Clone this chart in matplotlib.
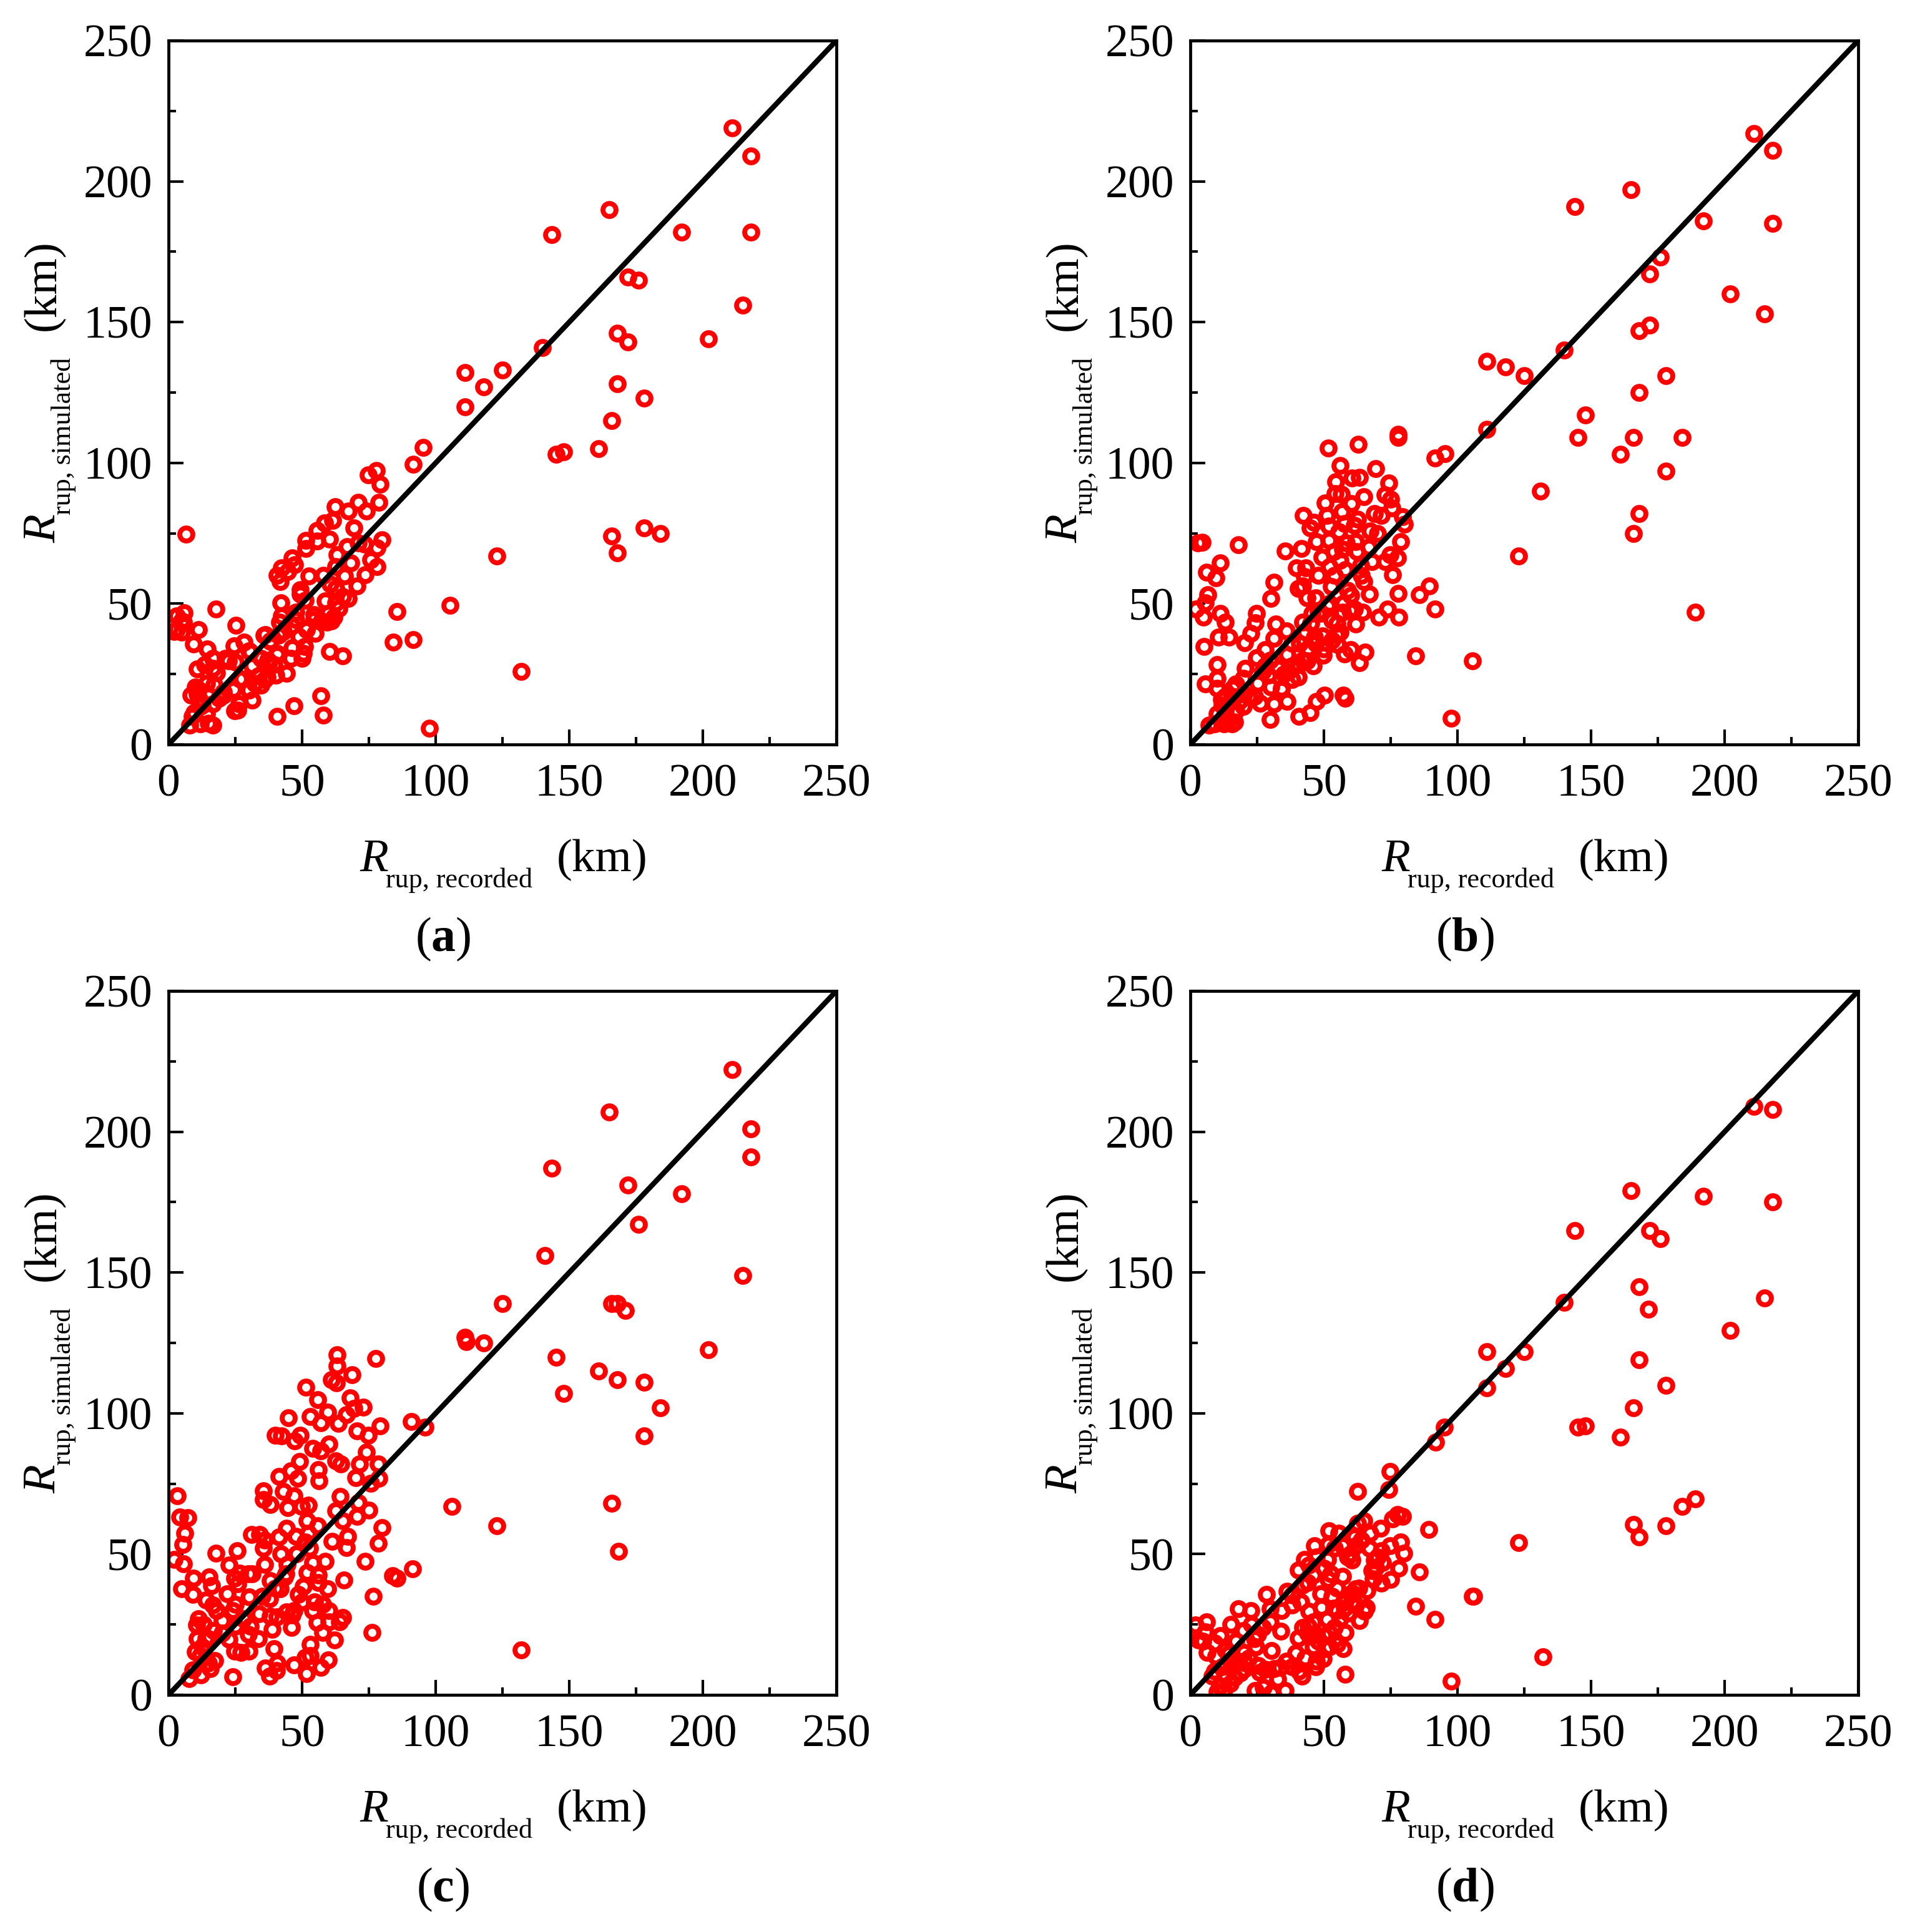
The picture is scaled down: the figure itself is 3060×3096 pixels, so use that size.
"""
Four scatter panels of simulated against recorded rupture distance.
"""
import matplotlib
matplotlib.use("Agg")
import matplotlib.pyplot as plt

plt.rcParams["font.family"] = ["Liberation Serif", "DejaVu Serif"]
plt.rcParams["mathtext.fontset"] = "custom"
plt.rcParams["mathtext.rm"] = "Liberation Serif"
plt.rcParams["mathtext.it"] = "Liberation Serif:italic"
plt.rcParams["mathtext.bf"] = "Liberation Serif:bold"

a_x = [211, 218, 218, 192, 165, 143.5, 172, 176, 168, 172, 202, 215, 140, 111, 125, 118, 111, 168, 166, 178,
       161, 148, 145, 166, 168, 178, 184, 123, 132,
       6.5, 95.4, 91.7, 74.8, 77.7, 79.3, 78.7, 71.1, 62.4, 67.2, 74.1, 61.4, 69.5, 58.3, 55.5, 60.2, 55.5, 51.5, 51.5,
       79.9, 66.8, 73.4, 71.1, 63.1, 78.1, 75.8, 68.2, 62.5, 78.1, 47.2, 46.2, 44.6, 42.3, 40.7, 41.9, 57.9, 52.6, 73.7,
       66, 60.4, 70.6, 49.3, 51.2, 65.3, 67.2, 42.1, 58.6, 62.5, 59.8, 61.8, 42.3, 47.7, 41.5, 57.2, 59.4, 54.4, 46.2,
       51.6, 54.8, 41.3, 48.8, 36.1, 38, 28.3, 24.6, 30.1, 51, 46.3, 50.5, 40.7, 45.8, 25, 22.4, 39.6, 37.6, 31.2,
       33.7, 36, 44.2, 40.3, 10.7, 16.6, 18.1, 17, 10, 8.4, 10.7, 11.5, 12.7, 24.2, 30.2, 31.4, 24.8, 26, 19.7, 27.5,
       40.7, 47, 57.1, 58, 97.6, 60.2, 65.3, 85.5, 84.2, 91.5, 105.4, 17.8, 25.3, 11.3, 9.3, 14.4, 5.9, 3, 5.7, 3,
       4.9, 8, 15, 16.6, 11.9, 8.8, 9.6, 14.3, 16.6, 20.5,
       21.3, 35.7, 30.6, 34.5, 38, 41.1, 37.2, 40.7, 32.2, 34.5, 36.8, 26.7, 20.5, 18.9, 11.9, 11.1, 14.3, 13.5, 16.6,
       4.9, 2.2, 26.3, 49.3, 62.5, 63.7, 61, 54.4, 51.6, 43.1, 47.7, 50.1]
a_y = [219, 209, 182, 182, 190, 181, 166, 165, 146, 143, 144, 156, 141, 132, 133, 127, 120, 128, 115, 123,
       105, 104, 103, 74, 68, 77, 75, 67, 26,
       74.6, 105.5, 99.5, 95.8, 97.4, 92.4, 85.9, 85.9, 84.5, 82.8, 83, 79.5, 77, 78.6, 76, 72.9, 72.3, 72.4, 69.5,
       72.7, 70.2, 71.1, 71.6, 67.3, 69.8, 65.7, 64.5, 63.2, 63.2, 63.8, 66.3, 61.4, 62.8, 60.1, 57.9, 60.1, 59.9, 60.3,
       59.9, 57, 56.3, 53.5, 51.3, 52.5, 51.8, 50.4, 50.9, 50.4, 46.5, 45.2, 45.6, 44.3, 43.4, 43.8, 43.4, 44.3, 42.1,
       40.8, 39.4, 39, 38.4, 39, 36.8, 36.4, 35, 33.3, 34.8, 34.3, 32.4, 32.4, 30.5, 29.3, 29.8, 28.4, 29.3, 28,
       24.3, 23, 25.2, 24.5, 26.9, 27.1, 25.4, 21.2, 20.5, 17.6, 17.9, 16.1, 13.9, 19.4, 19.2, 15.8, 11.9, 12.1, 17, 23.2,
       9.9, 13.7, 17.2, 10.4, 5.8, 33, 31.5, 47.1, 36.4, 37.2, 49.4, 48, 42.3, 40.8, 35.7, 33.9, 46.7, 45.6, 43.4, 40.8,
       39.9, 6.9, 7.6, 6.9, 7.3, 9.9, 11.3, 10.8, 14.3, 17.5,
       30.6, 38.7, 32.8, 30.6, 36.5, 38.7, 29.9, 32, 21.7, 21, 23.9, 23.2, 18.7, 16.5, 13.6, 19.5, 21.7, 28.4, 30.6,
       43.9, 40.2, 14.3, 55, 55.4, 48.4, 43.9, 46.1, 41, 40.2, 46.9, 30.6]

b_x = [211, 218, 218, 192, 165, 144, 176, 172, 172, 168, 202, 215, 140, 111, 118, 125, 111, 178, 168, 148,
       166, 184, 145, 161, 178, 131, 168, 166, 123, 189,
       51.6, 62.9, 77.7, 77.7, 91.7, 95.4, 56, 69.5, 63.3, 60.6, 54.4, 74.2, 56.5, 54.1, 65, 72.8, 74.9, 50.5, 60.2, 75.5,
       42.3, 56.7, 51.2, 68.9, 71.6, 79.4, 62.5, 57.6, 80.2, 61.5, 46.3, 44.9, 51.8, 55.7, 67.2, 51.8, 47.3, 78.7, 58.4, 57,
       41.5, 35.4, 66.8, 53.7, 62.3, 49.2, 74.8, 77.5, 56, 72.8, 63.9, 52.2, 39.7, 43.2, 75.7, 42.8, 65, 52.7, 40.5, 42.1,
       43.6, 58.8, 67, 31.3, 30.1, 77.7, 85.7, 89.4, 91.5, 51.4, 57.2, 61.5, 59.8, 64.6, 73.8, 70.5, 78.1, 61.8, 48.7, 45.6,
       42.1, 5.7, 6.6, 2, 4.9, 11.3, 13.2, 6, 11.3, 9.5, 4.4, 2.7, 17.9, 24.7, 24.3, 22.6, 20.4, 32.1, 31.4, 36,
       10.5, 14.4, 5.1, 24.8, 36.2, 38.2, 46.5, 49.5, 54.7, 44.2, 55.1, 49.8, 57.6, 60, 65.4, 63.3, 40.7, 43.6, 36.4, 40.5,
       28, 20.6, 29.2, 10.1, 10.1, 5.5, 17.1, 19.9, 25.2, 30.2, 34.1, 11.7, 18.5, 19.9, 26.2, 31.2, 36.2, 30, 40.7, 44.8,
       47.3, 50.2, 57.2, 58, 97.7, 84.3, 105.5, 9, 7, 16.7, 15.6, 12.5, 14, 10.1, 13.2,
       10, 13, 15, 17, 20, 22, 27, 30, 33, 35, 38, 41, 43, 45, 48, 52, 53, 47, 50, 55, 57, 60, 64, 58, 62, 70, 68, 54, 48, 47,
       12, 16, 24, 28, 34, 38, 42, 46, 53, 56]
b_y = [217, 211, 185, 186, 197, 191, 173, 167, 149, 147, 160, 153, 140, 136, 134, 131, 112, 131, 125, 117,
       109, 109, 109, 103, 97, 90, 82, 75, 67, 47,
       105.2, 106.6, 110.1, 109, 101.8, 103.3, 99, 98, 94.9, 94.6, 93.4, 92.9, 88.9, 89.2, 87.9, 88.7, 87, 85.7, 85.5, 83.9,
       81.3, 82.6, 81.3, 82, 81.3, 81, 79.9, 78.4, 78.2, 77.7, 79, 76.8, 77.6, 75.5, 75.8, 72.4, 72, 72, 71.6, 69.4,
       69.6, 68.8, 70.1, 68.5, 68.5, 66.5, 67.4, 66.3, 65.4, 65, 63.6, 63.2, 62.8, 62.8, 60.3, 59.7, 57.9, 56, 55.3, 56.2,
       52, 54.8, 53.5, 57.7, 51.9, 53.7, 53.3, 56.2, 48.1, 49.1, 50, 48.2, 47.4, 46.9, 48.2, 45.3, 45.2, 42.8, 46.5, 46.5,
       43.4, 50.4, 53.3, 48.2, 45.2, 46.5, 43.4, 61.2, 64.5, 59.2, 71.7, 71.6, 70.9, 46.5, 43.2, 39.4, 36.1, 42.8, 37.7, 40.3,
       38.1, 38.1, 34.8, 30.8, 32, 35.9, 38.1, 38.6, 39, 34.2, 35.5, 31.7, 32.2, 33.7, 32.8, 29, 28.3, 29.8, 25.6, 24,
       33.7, 27.1, 24.7, 28.4, 23.6, 21.6, 21.4, 23.6, 21.8, 20.5, 19.6, 15.9, 15.5, 13.5, 14.6, 14.3, 15.4, 8.8, 9.9, 11.3,
       15.2, 17.4, 17.4, 16.5, 9.2, 31.4, 29.8, 7.3, 6.9, 8, 7.3, 7.3, 8.2, 10.8, 11.7,
       20, 17, 15, 12, 18, 17, 26, 30, 27, 25, 28, 36, 40, 43, 47, 50, 44, 36, 34, 43, 47, 53, 60, 62, 72, 75, 65, 60, 60, 52,
       14, 20, 17, 28, 20, 23, 30, 28, 37, 40]

c_x = [211, 218, 218, 192, 165, 143.5, 172, 176, 141, 125, 111, 111.5, 118, 166, 168, 171, 215, 202, 145, 161,
       148, 168, 178, 184, 178, 96, 91, 166, 168.5, 123, 106, 132,
       63.2, 63.1, 68.7, 60.9, 62.9, 77.6, 51.4, 55.8, 68.1, 73, 69.5, 59.6, 53, 57, 44.8, 63.6, 66.7, 79.2, 70.6, 74.8,
       42.2, 39.9, 47.1, 49.2, 53.9, 60, 57, 74, 62.5, 64.4, 78.4, 71.6, 49, 45.9, 41.4, 48.4, 56.1, 56.4, 70.2, 78.8,
       75.7, 35.6, 38, 35.6, 43.1, 46.9, 44.7, 49.8, 52.3, 64.3, 62.5, 71, 75.1, 70.6, 51.9, 55.8, 65.2, 80, 78.6, 31.1,
       34, 44.2, 52.3, 47.7, 41.4, 51.2, 52.7, 61.3, 67.1, 66.7, 35.4, 42, 25.7, 17.8, 22.6, 58.6, 73.7, 36, 44.5, 31.3,
       26.6, 24.7, 26, 38.2, 43.4, 51.8, 56.1, 65.7, 85.4, 83.9, 91.4, 41.8, 50.4, 59.6, 48.7, 30.1, 37.9, 16.1, 15.3, 9.3,
       4.8, 9.1, 14, 16.5, 25, 57.8, 54.7, 76.6, 44.2, 46.3, 33.8, 40.7, 65.2, 60.1, 55.5, 38.7, 30.5, 11.2, 20, 10.5,
       24.9, 16.9, 57.6, 76.2, 29.8, 33.6, 10.7, 22.6, 53.1, 62.2, 39.5, 12.6, 10, 24.7, 30.1, 51.2, 59.7, 15, 17.3, 15.7,
       9.1, 24.1, 36.1, 40.7, 40.5, 37.9, 46.9, 57, 51.7, 7.8, 12.2, 3.3, 4.2, 7.2, 6, 5.4, 2.1, 5.5,
       13, 15, 20, 27, 35, 40, 44, 48, 54, 56, 60, 64, 47, 38, 24, 30, 36, 18, 14, 12, 22, 28, 50, 54, 53, 46]
c_y = [222, 201, 191, 178, 207, 187, 181, 167, 156, 139, 127, 125.5, 125, 139, 139, 136.5, 149, 122.5, 120, 115,
       107, 112, 111, 102, 92, 95, 97, 68, 51, 60, 67, 16,
       120.7, 116.8, 113.8, 112, 110.9, 119.4, 109.3, 104.8, 105.4, 102.2, 101.7, 100.4, 98.8, 96.7, 98.5, 96.4, 99.5, 95.6, 93.8, 92.1,
       91.9, 92.3, 90.3, 92.1, 87.6, 89.1, 86.6, 86.2, 83.2, 82.1, 82.1, 81.9, 83, 79.6, 77.5, 77, 80.1, 76.1, 77.2, 76.8,
       75.2, 72.5, 67.6, 69.3, 72.3, 70.6, 66.5, 67, 67.4, 70.4, 65.4, 68.2, 65.6, 63.3, 61.9, 60.1, 61.9, 59.4, 53.9, 56.9,
       56.9, 59.2, 57.4, 56.4, 56, 54.3, 52.1, 54.6, 56.4, 52.3, 52.1, 50, 51.1, 50.3, 46.2, 47.5, 47.5, 46.4, 46.4, 42.9,
       43.2, 41.4, 39.5, 40.6, 41.8, 43.5, 42.5, 40.7, 41.4, 42.3, 44.8, 37.7, 38.6, 37.7, 35.6, 34.9, 34.2, 38.8, 41.8, 41.5,
       37.7, 35.7, 33.6, 32, 32.2, 32.2, 33.1, 35.1, 29.5, 28.3, 28.8, 27.6, 27.4, 26, 25.8, 23.3, 24.4, 27, 26.3, 24.9,
       24.4, 22.9, 22.1, 22.1, 21.5, 19.9, 19.9, 19.7, 18, 19.4, 16.5, 17.1, 15.3, 15.5, 15.5, 13.3, 12.5, 11.3, 12.1, 9.3,
       8.9, 6.5, 9.6, 11.2, 8.6, 6.6, 10.7, 9.8, 7.5, 5.7, 7, 70.6, 63.1, 62.9, 57.4, 53.4, 48.2, 46.6,
       25, 20, 22, 15, 35, 38, 43, 50, 47, 40, 30, 26, 30, 28, 30, 43, 55, 30, 20, 14, 36, 27, 33, 30, 14, 24]

d_x = [211, 218, 218, 192, 165, 144, 172, 176, 140, 168, 171.5, 215, 202, 111, 125, 118, 111, 178, 168, 166,
       161, 148, 145, 95, 166, 168, 178, 184, 189, 123, 106, 132,
       91.9, 74.8, 74.2, 62.5, 79.4, 77.5, 75.8, 89.3, 71.3, 67.2, 62.7, 65, 61.4, 51.9, 55.7, 46.5, 51.6, 78.7, 74.8, 71.6,
       80, 68.9, 69.5, 78, 58.8, 60.4, 51.4, 47.1, 42.7, 44.4, 40.5, 46.1, 51.6, 52.6, 85.7, 42.1, 68.4, 66.2, 61.9, 60,
       48.9, 71.6, 36.2, 38.2, 28.6, 41.3, 17.9, 22.7, 30, 60.4, 57.8, 53.7, 65.3, 44.4, 84.3, 105.5, 91.5, 51.2, 63.3, 15.2,
       23, 1.9, 6.1, 5.7, 11.3, 19.9, 25.2, 33.9, 44.2, 58, 46.7, 40.5, 17.1, 3.1, 4.7, 9.1, 24.5, 46.1, 50.6, 57.2,
       30.4, 39.5, 14.4, 6.2, 9.6, 49.8, 47.1, 20.5, 25.5, 33.7, 31.2, 40.7, 41.8, 16.7, 18.7, 9, 8.2, 13.2, 32.7, 58,
       97.7, 10.1, 12.5, 24.3, 27.3, 30.4, 35.6,
       55, 58, 61, 63, 65, 66, 62, 59, 56, 54, 52, 50, 48, 44, 42, 38, 36, 52, 55, 46, 49, 53, 55, 57, 60, 62, 64, 57, 54, 50,
       44, 38, 34, 30, 27, 24, 20, 15, 12, 26, 28, 20, 15, 11, 13, 18, 22, 43, 47, 68, 72, 75, 70, 67]
d_y = [209, 208, 175, 177, 179, 165, 165, 162, 139.5, 145, 137, 141, 129.5, 122, 122, 116, 109, 110, 119, 102,
       91.5, 95.5, 95, 95, 60.5, 56, 60, 67, 69.5, 54, 35, 13.5,
       89.7, 79.4, 72.9, 72.2, 63.4, 64, 62.5, 58.8, 59.2, 57.5, 61, 61.8, 56.1, 58.2, 57.4, 52.9, 53.5, 54.2, 52.9, 51.1,
       50.4, 47.9, 45.2, 45, 48.9, 47.8, 48, 48.9, 48.2, 46, 44.3, 42.6, 41, 43, 43.6, 39, 41.2, 37.1, 37.6, 36,
       35.8, 39.7, 36.8, 35.4, 35.7, 33.1, 30.5, 29.9, 30.5, 33.1, 30.7, 30.9, 29.8, 29.6, 31.4, 35.1, 26.8, 26.8, 26.3, 25,
       25, 24.8, 26, 22.4, 21, 22.8, 21.5, 22.6, 24.3, 22.1, 21.3, 20.2, 19.1, 19.5, 19.1, 18.4, 17.1, 17.1, 16.5, 16.5,
       15.8, 14.9, 14.7, 15.1, 13.8, 12.9, 11.9, 11.3, 10.4, 9.8, 9.2, 8.5, 6.6, 6.3, 7.7, 8.5, 6.6, 7.4, 5.5, 7.4,
       4.9, 1.1, 1.8, 1.6, 2.6, 0.7, 1.6,
       30, 33, 36, 38, 30, 31, 32, 29, 27, 24, 22, 21, 19, 22, 24, 10, 12, 17, 18, 26, 31, 35, 38, 42, 50, 53, 55, 53, 52, 45,
       40, 32, 30, 26, 24, 20, 15, 12, 10, 8, 9, 9, 4, 3, 16, 12, 13, 13, 10, 44, 47, 41, 49, 52]

panel_x = [a_x, b_x, c_x, d_x]
panel_y = [a_y, b_y, c_y, d_y]
panel_names = ["a", "b", "c", "d"]
major_ticks = [0, 50, 100, 150, 200, 250]
minor_ticks = [25, 75, 125, 175, 225]

W, H = 3060, 3096
# left and top pixel of each axes box
boxes = [(270, 65), (1907, 65), (270, 1588), (1907, 1588)]
BOX_W, BOX_H = 1070, 1128

fig = plt.figure(figsize=(W / 300, H / 300), dpi=300)

for i, (left, top) in enumerate(boxes):
    ax = fig.add_axes([left / W, 1 - (top + BOX_H) / H, BOX_W / W, BOX_H / H])
    ax.plot(panel_x[i], panel_y[i], "o", mfc="none", mec="#ff0000", ms=5.0, mew=1.9, zorder=2)
    ax.plot([0, 250], [0, 250], color="black", lw=2.0, zorder=3)

    ax.set_xlim(0, 250)
    ax.set_ylim(0, 250)
    ax.set_xticks(major_ticks)
    ax.set_yticks(major_ticks)
    ax.set_xticks(minor_ticks, minor=True)
    ax.set_yticks(minor_ticks, minor=True)
    ax.tick_params(which="major", direction="in", length=5.8, width=1.0, labelsize=17.7)
    ax.tick_params(which="minor", direction="in", length=2.9, width=1.0)
    ax.tick_params(axis="x", which="major", pad=7.4)
    ax.tick_params(axis="y", which="major", pad=6.2)
    for spine in ax.spines.values():
        spine.set_linewidth(1.15)
        spine.set_zorder(4)

    # x axis label pieces
    ax.text(0.286, -0.18, "R", style="italic", fontsize=18, transform=ax.transAxes, ha="left", va="baseline")
    ax.text(0.325, -0.203, "rup, recorded", fontsize=10.6, transform=ax.transAxes, ha="left", va="baseline")
    ax.text(0.581, -0.18, "(km)", fontsize=18, transform=ax.transAxes, ha="left", va="baseline")

    # y axis label pieces
    kw = dict(rotation=90, rotation_mode="anchor", transform=ax.transAxes, ha="left", va="baseline")
    ax.text(-0.170, 0.286, "R", style="italic", fontsize=18, **kw)
    ax.text(-0.1465, 0.326, "rup, simulated", fontsize=10.6, **kw)
    ax.text(-0.170, 0.588, "(km)", fontsize=18, **kw)

    ax.text(0.411, -0.294, rf"($\mathbf{{{panel_names[i]}}}$)", fontsize=18.7,
            transform=ax.transAxes, ha="center", va="baseline")

fig.savefig("out.png", dpi=300)
plt.close(fig)
